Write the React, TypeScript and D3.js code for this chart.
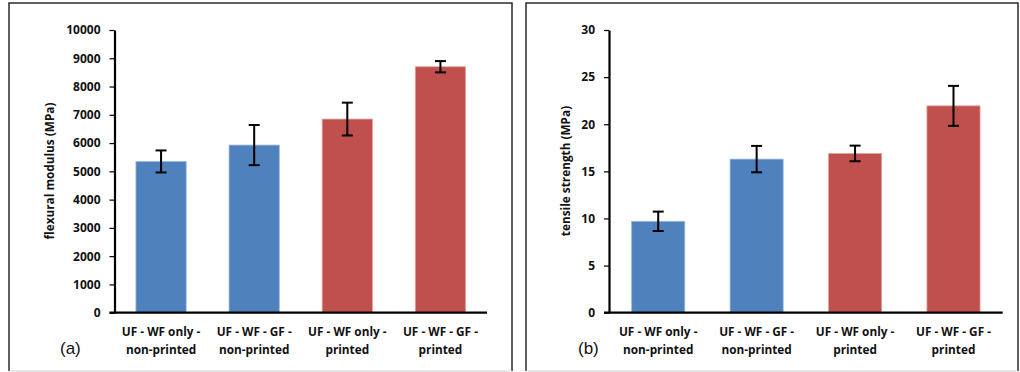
import React, { useEffect, useRef } from 'react';
import * as d3 from 'd3';

const categories = [
    ['UF - WF only -', 'non-printed'],
    ['UF - WF - GF -', 'non-printed'],
    ['UF - WF only -', 'printed'],
    ['UF - WF - GF -', 'printed'],
];
const barColors = ['#4F81BD', '#4F81BD', '#C0504D', '#C0504D'];

const modulusValues = [5350, 5930, 6850, 8700];
const modulusErrors = [390, 710, 580, 200];
const modulusTicks = [0, 1000, 2000, 3000, 4000, 5000, 6000, 7000, 8000, 9000, 10000];

const strengthValues = [9.7, 16.3, 16.9, 21.95];
const strengthErrors = [1.03, 1.4, 0.83, 2.12];
const strengthTicks = [0, 5, 10, 15, 20, 25, 30];

const FONT = '"Open Sans", "DejaVu Sans", sans-serif';

const App = () => {
    const ref = useRef(null);

    useEffect(() => {
        const svg = d3.select(ref.current);
        svg.selectAll('*').remove();

        const drawPanel = (opts) => {
            const { box, axisLeft, axisRight, top, bottom, max, ticks, values, errors, title, titleX, tag, tagX } = opts;

            // panel frame
            const g = svg.append('g');
            g.append('path')
                .attr('d', `M${box[0]},${box[3]} L${box[0]},${box[1]} L${box[2]},${box[1]} L${box[2]},${box[3]}`)
                .attr('fill', 'none')
                .attr('stroke', '#2b2b2b')
                .attr('stroke-width', 1.5);
            g.append('line')
                .attr('x1', box[0]).attr('x2', box[2])
                .attr('y1', box[3]).attr('y2', box[3])
                .attr('stroke', '#d0d0d0')
                .attr('stroke-width', 1);

            const x = d3.scaleBand()
                .domain(categories.map((c, i) => i))
                .range([axisLeft, axisRight])
                .paddingInner(0.46)
                .paddingOuter(0.23);

            const y = d3.scaleLinear().domain([0, max]).range([bottom, top]);

            // bars
            g.selectAll('rect.bar')
                .data(values)
                .enter()
                .append('rect')
                .attr('x', (d, i) => x(i))
                .attr('y', d => y(d))
                .attr('width', x.bandwidth())
                .attr('height', d => y(0) - y(d))
                .attr('fill', (d, i) => barColors[i])
                .attr('stroke', (d, i) => (i < 2 ? '#9fbbe0' : '#e3a3a1'))
                .attr('stroke-width', 0.8);

            // error bars
            values.forEach((v, i) => {
                const cx = x(i) + x.bandwidth() / 2;
                const hi = y(v + errors[i]);
                const lo = y(v - errors[i]);
                g.append('line')
                    .attr('x1', cx).attr('x2', cx)
                    .attr('y1', hi).attr('y2', lo)
                    .attr('stroke', '#000').attr('stroke-width', 2);
                [hi, lo].forEach(yy => {
                    g.append('line')
                        .attr('x1', cx - 5.5).attr('x2', cx + 5.5)
                        .attr('y1', yy).attr('y2', yy)
                        .attr('stroke', '#000').attr('stroke-width', 2);
                });
            });

            // y axis
            const yAxis = d3.axisLeft(y)
                .tickValues(ticks)
                .tickFormat(d3.format('d'))
                .tickSize(5)
                .tickSizeOuter(0)
                .tickPadding(9);
            const ya = g.append('g')
                .attr('transform', `translate(${axisLeft},0)`)
                .call(yAxis);
            ya.select('.domain').attr('stroke', '#000').attr('stroke-width', 2.2);
            ya.selectAll('.tick line').attr('stroke', '#000').attr('stroke-width', 1.2);
            ya.selectAll('.tick text')
                .attr('font-family', FONT)
                .attr('font-weight', 'bold')
                .attr('font-size', 12)
                .attr('fill', '#111');

            // x axis line
            g.append('line')
                .attr('x1', axisLeft - 5).attr('x2', axisRight)
                .attr('y1', bottom).attr('y2', bottom)
                .attr('stroke', '#000').attr('stroke-width', 2.2);

            // category labels
            categories.forEach((lines, i) => {
                const cx = x(i) + x.bandwidth() / 2;
                lines.forEach((t, j) => {
                    g.append('text')
                        .attr('x', cx)
                        .attr('y', 336 + j * 18)
                        .attr('text-anchor', 'middle')
                        .attr('font-family', FONT)
                        .attr('font-weight', 'bold')
                        .attr('font-size', 11.8)
                        .attr('fill', '#111')
                        .text(t);
                });
            });

            // y axis title
            g.append('text')
                .attr('transform', `translate(${titleX},171) rotate(-90)`)
                .attr('text-anchor', 'middle')
                .attr('font-family', FONT)
                .attr('font-weight', 'bold')
                .attr('font-size', 11.8)
                .attr('fill', '#111')
                .text(title);

            // panel tag
            g.append('text')
                .attr('x', tagX)
                .attr('y', 354)
                .attr('font-family', '"Liberation Sans", Arial, sans-serif')
                .attr('font-size', 17)
                .attr('fill', '#111')
                .text(tag);
        };

        drawPanel({
            box: [9, 3, 512, 371],
            axisLeft: 114.5, axisRight: 487,
            top: 30, bottom: 312.7,
            max: 10000, ticks: modulusTicks,
            values: modulusValues, errors: modulusErrors,
            title: 'flexural modulus (MPa)', titleX: 54,
            tag: '(a)', tagX: 60,
        });

        drawPanel({
            box: [526, 3, 1018, 371],
            axisLeft: 609, axisRight: 1002.7,
            top: 30, bottom: 312.7,
            max: 30, ticks: strengthTicks,
            values: strengthValues, errors: strengthErrors,
            title: 'tensile strength (MPa)', titleX: 570,
            tag: '(b)', tagX: 578,
        });
    }, []);

    return (
        <svg
            ref={ref}
            width={1020}
            height={372}
            style={{ position: 'absolute', left: 0, top: 0, background: '#fff' }}
        />
    );
};

export default App;
